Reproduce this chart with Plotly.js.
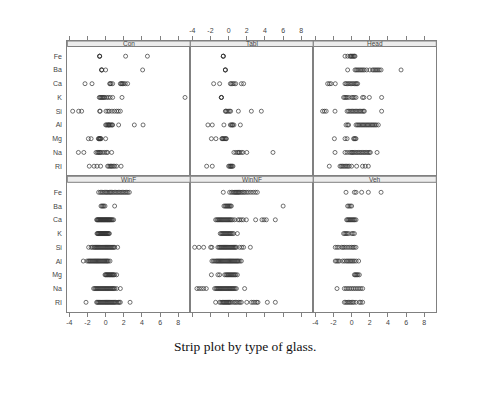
<!DOCTYPE html>
<html><head><meta charset="utf-8">
<script src="https://cdn.plot.ly/plotly-3.0.1.min.js"></script>
<style>html,body{margin:0;padding:0;background:#fff;} #chart{width:494px;height:400px;}</style>
</head><body><div id="chart"></div>
<script>
// ---- data ----
const measures = ['RI','Na','Mg','Al','Si','K','Ca','Ba','Fe'];
const panelNames = ['Con','Tabl','Head','WinF','WinNF','Veh'];
const xTickVals = [-4,-2,0,2,4,6,8];
const xTickText = ['-4','-2','0','2','4','6','8'];
const chartTitle = 'Strip plot by type of glass.';

// Con
const con_RI = [-1.8,-1.28,-0.95,-0.55,0.22,0.35,0.5,0.6,0.7,0.85,1.0,1.21,1.7];
const con_Na = [-3.0,-2.4,-1.06,-0.9,-0.8,-0.7,-0.6,-0.5,-0.3,-0.1,0.1,0.22,0.66];
const con_Mg = [-1.9,-1.6,-0.8,-0.75,-0.7,-0.65,-0.6,-0.55,-0.5,0.0];
const con_Al = [0.0,0.1,0.2,0.3,0.35,0.4,0.5,0.6,0.7,0.77,1.43,3.16,4.12];
const con_Si = [-3.63,-2.97,-2.64,-0.66,-0.6,0.04,0.25,0.41,0.7,0.96,1.21,1.4,1.62];
const con_K  = [-0.7,-0.6,-0.5,-0.4,-0.3,-0.2,-0.1,0.1,0.3,0.5,0.77,1.8,8.74];
const con_Ca = [-2.27,-1.5,0.45,0.5,0.6,0.77,1.62,1.7,1.8,1.87,2.0,2.17,2.42];
const con_Ba = [-0.44,-0.44,-0.44,0.0,4.07];
const con_Fe = [-0.66,-0.66,-0.66,2.2,4.6];
// Tabl
const tabl_RI = [-2.42,-1.8,0.0,0.1,0.2,0.25,0.3,0.4,0.48];
const tabl_Na = [0.58,0.8,1.0,1.1,1.2,1.4,1.57,2.0,4.88];
const tabl_Mg = [-1.9,-1.4,-0.74,-0.7,-0.6,-0.5,-0.4,-0.3,-0.25];
const tabl_Al = [-2.28,-1.8,-0.52,0.19,0.3,0.4,0.45,0.58,1.29];
const tabl_Si = [-0.36,-0.3,-0.2,-0.05,0.1,0.22,1.07,2.5,3.6];
const tabl_K  = [-0.8,-0.8,-0.8];
const tabl_Ca = [-1.65,-0.99,0.19,0.3,0.45,0.6,0.77,1.4,1.65];
const tabl_Ba = [-0.36,-0.36,-0.36];
const tabl_Fe = [-0.59,-0.59,-0.59];
// Head
const head_RI = [-2.46,-1.28,-1.15,-1.0,-0.85,-0.7,-0.55,-0.4,-0.26,0.0,0.55,1.2,1.5,1.84];
const head_Na = [-1.83,-0.73,-0.5,-0.25,-0.07,0.05,0.15,0.3,0.45,0.6,0.75,0.9,1.05,1.2,1.35,1.5,1.65,1.8,1.95,2.06,2.8];
const head_Mg = [-1.9,-0.73,-0.5,0.22,0.3,0.4,0.48];
const head_Al = [-0.62,-0.45,-0.33,0.48,0.62,0.76,0.9,1.04,1.18,1.32,1.46,1.6,1.74,1.88,2.02,2.16,2.3,2.44,2.58,2.72,2.94];
const head_Si = [-3.2,-3.0,-2.8,-1.83,-0.5,-0.35,-0.2,-0.05,0.1,0.25,0.4,0.55,0.7,0.85,1.0,1.15,1.3,1.4,3.3];
const head_K  = [-0.88,-0.75,-0.62,-0.5,-0.3,0.0,0.15,0.3,0.48,1.2,1.35,1.95,3.3];
const head_Ca = [-2.64,-2.45,-2.27,-1.8,-0.73,-0.6,-0.45,-0.3,-0.15,0.0,0.15,0.3,0.45,0.55,0.66];
const head_Ba = [-0.44,0.37,0.5,0.65,0.8,0.95,1.1,1.25,1.4,1.65,2.0,2.3,2.45,2.6,2.75,2.9,3.05,3.24,5.44];
const head_Fe = [-0.73,-0.44,-0.18,-0.1,0.0,0.1,0.2,0.3,0.37];
// WinF
const winF_RI = [-2.16,-0.99,-0.9,-0.8,-0.7,-0.6,-0.5,-0.4,-0.3,-0.2,-0.1,0.0,0.1,0.2,0.3,0.4,0.5,0.6,0.7,0.8,0.9,1.0,1.1,1.25,1.4,1.5,1.62,2.69];
const winF_Na = [-1.32,-1.2,-1.1,-1.0,-0.9,-0.8,-0.7,-0.6,-0.5,-0.4,-0.3,-0.2,-0.1,0.0,0.1,0.2,0.3,0.4,0.5,0.6,0.7,0.8,0.9,1.0,1.21,1.62];
const winF_Mg = [-0.07,0.0,0.08,0.15,0.22,0.3,0.38,0.45,0.52,0.6,0.68,0.75,0.82,0.9,1.0,1.21];
const winF_Al = [-2.46,-2.05,-1.9,-1.8,-1.7,-1.6,-1.5,-1.4,-1.3,-1.2,-1.1,-1.0,-0.9,-0.8,-0.7,-0.6,-0.5,-0.4,-0.3,-0.2,-0.1,0.0,0.1,0.2,0.3,0.48];
const winF_Si = [-1.87,-1.6,-1.45,-1.3,-1.2,-1.1,-1.0,-0.9,-0.8,-0.7,-0.6,-0.5,-0.4,-0.3,-0.2,-0.1,0.0,0.1,0.2,0.3,0.4,0.5,0.6,0.7,0.8,0.9,1.0,1.32];
const winF_K  = [-0.95,-0.88,-0.82,-0.76,-0.7,-0.64,-0.58,-0.52,-0.46,-0.4,-0.34,-0.28,-0.22,-0.16,-0.1,-0.04,0.02,0.08,0.14,0.2,0.27,0.34,0.41];
const winF_Ca = [-0.99,-0.92,-0.86,-0.8,-0.74,-0.68,-0.62,-0.56,-0.5,-0.44,-0.38,-0.32,-0.26,-0.2,-0.14,-0.08,-0.02,0.04,0.1,0.16,0.22,0.28,0.34,0.4,0.46,0.52,0.6,0.68,0.76,0.88];
const winF_Ba = [-0.51,-0.4,-0.3,-0.2,-0.07,0.99];
const winF_Fe = [-0.77,-0.59,-0.45,-0.3,-0.15,0.0,0.12,0.25,0.4,0.52,0.65,0.8,0.95,1.1,1.25,1.4,1.55,1.7,1.85,2.0,2.15,2.3,2.45,2.61];
// WinNF
const winNF_RI = [-1.43,-0.99,-0.85,-0.7,-0.6,-0.5,-0.4,-0.3,-0.2,-0.1,0.0,0.1,0.2,0.4,0.6,0.75,0.9,1.1,1.25,1.4,2.0,2.5,2.7,2.9,3.1,3.23,4.26,5.14];
const winNF_Na = [-3.49,-3.25,-3.0,-2.75,-2.46,-1.54,-1.4,-1.3,-1.2,-1.1,-1.0,-0.9,-0.8,-0.7,-0.6,-0.5,-0.4,-0.3,-0.2,-0.1,0.0,0.1,0.2,0.3,0.4,0.5,0.6,0.72,0.85,1.76];
const winNF_Mg = [-1.9,-1.18,-0.99,-0.44,-0.3,-0.2,-0.1,0.0,0.1,0.2,0.3,0.4,0.5,0.6,0.7,0.8,0.96];
const winNF_Al = [-1.84,-1.7,-1.55,-1.4,-1.3,-1.2,-1.1,-1.0,-0.9,-0.8,-0.7,-0.6,-0.5,-0.4,-0.3,-0.2,-0.1,0.0,0.1,0.2,0.3,0.4,0.5,0.6,0.7,0.8,0.9,1.0,1.1,1.25,1.4];
const winNF_Si = [-3.74,-3.27,-2.75,-1.98,-1.85,-1.18,-1.05,-0.95,-0.85,-0.75,-0.65,-0.55,-0.45,-0.35,-0.25,-0.15,-0.05,0.05,0.15,0.25,0.35,0.45,0.55,0.65,0.75,0.85,1.21,1.45,1.65,2.39];
const winNF_K  = [-0.92,-0.8,-0.7,-0.6,-0.5,-0.4,-0.3,-0.2,-0.1,0.0,0.1,0.2,0.3,0.42,0.55,0.96];
const winNF_Ca = [-1.43,-1.3,-1.2,-1.1,-1.0,-0.9,-0.8,-0.7,-0.6,-0.5,-0.4,-0.3,-0.2,-0.1,0.0,0.1,0.2,0.3,0.45,0.66,1.03,1.2,1.4,1.6,1.95,2.97,3.67,3.9,4.15,5.14];
const winNF_Ba = [-0.52,-0.4,-0.3,-0.2,-0.1,0.0,0.1,0.2,0.3,6.0];
const winNF_Fe = [-0.59,0.11,0.3,0.45,0.6,0.7,0.8,0.9,1.0,1.1,1.2,1.35,1.5,1.65,1.8,2.0,2.2,2.45,2.7,2.95,3.16];
// Veh
const veh_RI = [-0.8,-0.65,-0.5,-0.35,-0.2,-0.05,0.1,0.25,0.48,0.85,1.0,1.21];
const veh_Na = [-1.61,-0.8,-0.6,-0.4,-0.2,0.0,0.2,0.4,0.6,0.8,1.0,1.21];
const veh_Mg = [0.3,0.4,0.5,0.6,0.7,0.85];
const veh_Al = [-1.8,-1.65,-1.5,-1.35,-1.0,-0.8,-0.6,-0.45,-0.3,-0.15,0.0,0.15,0.3,0.5,0.77];
const veh_Si = [-1.8,-1.6,-1.4,-1.1,-0.95,-0.8,-0.6,-0.4,-0.2,0.0,0.15,0.3,0.48];
const veh_K  = [-0.88,-0.75,-0.62,-0.5,-0.33,0.0,0.15,0.3];
const veh_Ca = [-0.55,-0.45,-0.35,-0.25,-0.15,-0.05,0.05,0.15,0.25,0.35,0.48];
const veh_Ba = [-0.44,-0.3,-0.15,0.0];
const veh_Fe = [-0.62,0.3,0.48,1.1,1.84,3.24];

const panelData = [
  [con_RI,con_Na,con_Mg,con_Al,con_Si,con_K,con_Ca,con_Ba,con_Fe],
  [tabl_RI,tabl_Na,tabl_Mg,tabl_Al,tabl_Si,tabl_K,tabl_Ca,tabl_Ba,tabl_Fe],
  [head_RI,head_Na,head_Mg,head_Al,head_Si,head_K,head_Ca,head_Ba,head_Fe],
  [winF_RI,winF_Na,winF_Mg,winF_Al,winF_Si,winF_K,winF_Ca,winF_Ba,winF_Fe],
  [winNF_RI,winNF_Na,winNF_Mg,winNF_Al,winNF_Si,winNF_K,winNF_Ca,winNF_Ba,winNF_Fe],
  [veh_RI,veh_Na,veh_Mg,veh_Al,veh_Si,veh_K,veh_Ca,veh_Ba,veh_Fe]
];

// ---- layout geometry (pixels) ----
const W = 494, H = 400;
const fx = v => v / W, fy = v => (H - v) / H;
const colEdges = [67.3, 190.3, 313.3, 436.3];
const rows = [
  {top: 41, bottom: 176.2, stripBottom: 46.5, yr: [0.273, 10.105]},
  {top: 176.2, bottom: 311.8, stripBottom: 182.3, yr: [0.309, 10.171]}
];
const xRange = [-4.22, 9.32];
const lineCol = '#808080';
const tickFont = {family: 'Liberation Sans, Arial, sans-serif', size: 7, color: '#444'};

const traces = [];
const layout = {
  width: W, height: H, margin: {l:0, r:0, t:0, b:0},
  paper_bgcolor: '#fff', plot_bgcolor: '#fff', showlegend: false,
  shapes: [], annotations: []
};

panelData.forEach((arrs, p) => {
  const r = Math.floor(p / 3), c = p % 3;
  const sfx = p === 0 ? '' : String(p + 1);
  const xs = [], ys = [];
  arrs.forEach((vals, i) => vals.forEach(v => { xs.push(v); ys.push(i + 1); }));
  traces.push({
    type: 'scatter', mode: 'markers', x: xs, y: ys,
    xaxis: 'x' + sfx, yaxis: 'y' + sfx, hoverinfo: 'skip',
    marker: {symbol: 'circle-open', size: 4, color: '#333', line: {width: 0.7, color: '#333'}}
  });
  const row = rows[r];
  const showX = (r === 0 && c === 1) || (r === 1 && c !== 1);
  layout['xaxis' + sfx] = {
    domain: [fx(colEdges[c]), fx(colEdges[c + 1])], range: xRange,
    anchor: 'y' + sfx, side: r === 0 ? 'top' : 'bottom',
    showline: true, mirror: true, linecolor: lineCol, linewidth: 1,
    showgrid: false, zeroline: false,
    ticks: 'outside', ticklen: 4, tickwidth: 1, tickcolor: lineCol,
    tickvals: xTickVals, ticktext: xTickText, showticklabels: showX,
    tickfont: tickFont, fixedrange: true
  };
  layout['yaxis' + sfx] = {
    domain: [fy(row.bottom), fy(row.top)], range: row.yr,
    anchor: 'x' + sfx, showline: true, mirror: true, linecolor: lineCol, linewidth: 1,
    showgrid: false, zeroline: false, ticks: '',
    tickvals: measures.map((m, i) => i + 1), ticktext: measures,
    showticklabels: c === 0, tickfont: tickFont, ticklabelstandoff: 3, fixedrange: true
  };
  // strip
  layout.shapes.push({
    type: 'rect', xref: 'paper', yref: 'paper', layer: 'above',
    x0: fx(colEdges[c]), x1: fx(colEdges[c + 1]), y0: fy(row.stripBottom), y1: fy(row.top),
    fillcolor: '#ececec', line: {color: lineCol, width: 1}
  });
  layout.annotations.push({
    xref: 'paper', yref: 'paper', x: fx((colEdges[c] + colEdges[c + 1]) / 2),
    y: fy((row.top + row.stripBottom) / 2), text: panelNames[p], showarrow: false,
    xanchor: 'center', yanchor: 'middle',
    font: {family: 'Liberation Sans, Arial, sans-serif', size: 6.5, color: '#444'}
  });
});

layout.annotations.push({
  xref: 'paper', yref: 'paper', x: fx(245), y: fy(346), text: chartTitle,
  showarrow: false, xanchor: 'center', yanchor: 'middle',
  font: {family: 'Liberation Serif, Times New Roman, serif', size: 13.5, color: '#111'}
});

Plotly.newPlot('chart', traces, layout, {displayModeBar: false, staticPlot: true});
</script>
</body></html>
